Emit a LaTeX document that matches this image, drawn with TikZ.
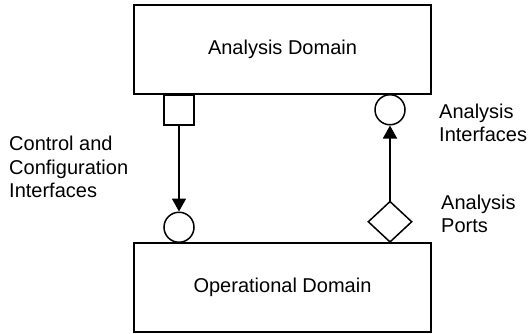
\documentclass[tikz,border=0pt]{standalone}
\usepackage{fontspec}
\setmainfont{Liberation Sans}
\usetikzlibrary{shapes.geometric,arrows.meta,positioning}

\begin{document}
\begin{tikzpicture}[x=1pt,y=1pt,
    dombox/.style={draw,line width=1.8pt,minimum width=297pt,minimum height=89pt,inner sep=0pt},
    port/.style={draw,fill=white,line width=1.5pt,inner sep=0pt},
    link/.style={line width=1.8pt,-{Triangle[length=13pt,width=14pt]}},
    lbl/.style={align=left,anchor=west,inner sep=0pt}]
      \useasboundingbox (0,0) rectangle (529,333);
      \fontsize{20}{23.4}\selectfont

      % Two domains, one above the other
      \node[dombox] (analysis) at (282.5,283.5) {Analysis Domain};
      \node[dombox] (operational) at (282.5,45.5) {Operational Domain};

      % Square port hanging under the analysis domain
      \node[port,rectangle,minimum size=30pt,anchor=north] (ctrl) at (179,239) {};
      % Circle on top of the operational domain
      \node[port,circle,minimum size=30pt,anchor=south] (ctrlif) at (179,90) {};

      % Circle hanging under the analysis domain
      \node[port,circle,minimum size=30pt,anchor=north] (anaif) at (390,239) {};
      % Diamond on top of the operational domain
      \node[port,diamond,minimum width=44pt,minimum height=41pt,anchor=south] (anaport) at (390,90) {};

      % Connections
      \draw[link] (ctrl) -- (ctrlif);
      \draw[link] (anaport) -- (anaif);

      % Labels
      \node[lbl] (ctrllbl) at (9,166) {Control and\\Configuration\\Interfaces};
      \node[lbl] (aniflbl) at (439,210) {Analysis\\Interfaces};
      \node[lbl] (anptlbl) at (441,119) {Analysis\\Ports};
\end{tikzpicture}
\end{document}
